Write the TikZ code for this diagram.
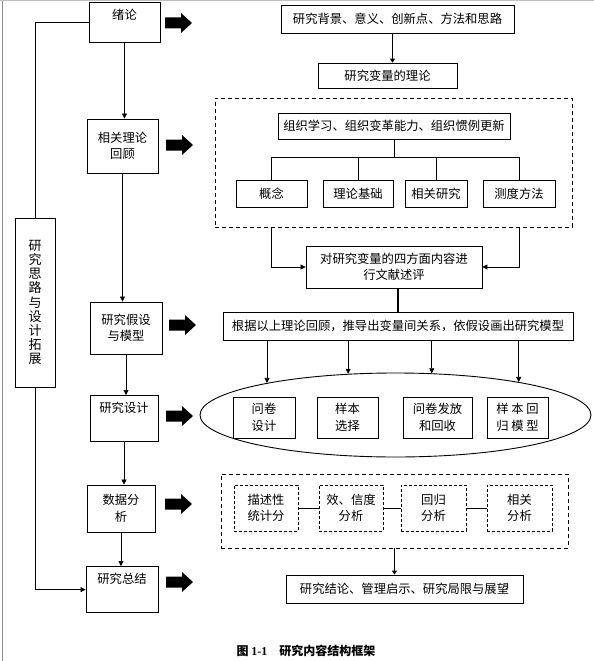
\documentclass[tikz,border=0pt]{standalone}
\usepackage{fontspec}
\setmainfont{Liberation Serif}
\newfontfamily\cjk{Noto Sans CJK SC}
\usetikzlibrary{arrows.meta,shapes.geometric,calc}

\tikzset{
  kuang/.style={draw, line width=0.8pt, align=center, inner sep=2pt,
    font=\cjk\fontsize{12.3pt}{16.5pt}\selectfont},
  zuokuang/.style={kuang, anchor=north, inner ysep=7pt},
  xukuang/.style={draw, line width=0.9pt, dash pattern=on 4pt off 3pt},
  xiaoxu/.style={kuang, line width=0.7pt, dash pattern=on 3pt off 2pt},
  xian/.style={line width=0.6pt},
  jiantou/.style={line width=0.6pt, -{Triangle[length=5pt,width=5pt]}},
  cujiantou/.style={line width=1.8pt, -{Triangle[length=4pt,width=5pt]}},
}

\begin{document}
\begin{tikzpicture}[x=1pt,y=-1pt]
  \useasboundingbox (0,0) rectangle (594,661);
  % page edges of the scan
  \draw[line width=1pt, draw=black!45] (2,0) -- (2,661);
  \draw[line width=0.8pt, draw=black!25] (0,0.5) -- (594,0.5);

  % left column
  \node[zuokuang, minimum width=71pt, text depth=16pt] (xulun) at (124.5,2) {绪论};
  \node[kuang, minimum width=71pt, minimum height=54pt] (huigu) at (122.5,146) {相关理论\\回顾};
  \node[kuang, minimum width=72pt, minimum height=52pt] (jiashe) at (126,328) {研究假设\\与模型};
  \node[zuokuang, minimum width=68pt, text depth=22pt] (sheji) at (124,395) {研究设计};
  \node[kuang, minimum width=68pt, minimum height=47pt] (shuju) at (121,508.5) {数据分\\析};
  \node[zuokuang, minimum width=72pt, text depth=22pt] (zongjie) at (122,566) {研究总结};
  \node[kuang, minimum width=40pt, minimum height=169pt,
    font=\cjk\fontsize{13pt}{14.2pt}\selectfont] (silu) at (35,302.5)
    {研\\究\\思\\路\\与\\设\\计\\拓\\展};

  \draw[jiantou] (xulun.south) -- (xulun.south |- huigu.north);
  \draw[jiantou] (huigu.south) -- (huigu.south |- jiashe.north);
  \draw[jiantou] (jiashe.south) -- (jiashe.south |- sheji.north);
  \draw[jiantou] (sheji.south) -- (sheji.south |- shuju.north);
  \draw[jiantou] (shuju.south) -- (shuju.south |- zongjie.north);
  \draw[xian] (xulun.west) -| (silu.north);
  \draw[jiantou] (silu.south) |- (zongjie.west);

  % fat arrows
  \foreach \x/\y in {165/23,166/145,169/325,166/416,165/504,166/582}
    \fill (\x,\y-5.5) -- (\x+16,\y-5.5) -- (\x+16,\y-10) -- (\x+27,\y)
      -- (\x+16,\y+10) -- (\x+16,\y+5.5) -- (\x,\y+5.5) -- cycle;

  % introduction
  \node[kuang, minimum width=233pt, minimum height=28pt] (beijing) at (397.5,19) {研究背景、意义、创新点、方法和思路};
  \node[kuang, minimum width=139pt, minimum height=25pt] (bianliang) at (387.5,75.5) {研究变量的理论};
  \coordinate (m1) at ($(beijing.south)!.5!(bianliang.north)$);
  \draw[cujiantou] (m1 |- beijing.south) -- (m1 |- bianliang.north);

  % theory review
  \node[xukuang, minimum width=357pt, minimum height=129pt] (kuang1) at (393.5,162.5) {};
  \node[kuang, minimum width=232pt, minimum height=26pt] (zuzhi) at (394,126) {组织学习、组织变革能力、组织惯例更新};
  \node[kuang, minimum width=71pt, minimum height=27pt] (gainian) at (271.5,193.5) {概念};
  \node[kuang, minimum width=70pt, minimum height=27pt] (jichu) at (358,193.5) {理论基础};
  \node[kuang, minimum width=62pt, minimum height=27pt] (yanjiu) at (436,193.5) {相关研究};
  \node[kuang, minimum width=72pt, minimum height=27pt] (cedu) at (519,193.5) {测度方法};
  \draw[xian] (zuzhi.south) -- ++(0,18) coordinate (fen);
  \foreach \n in {gainian,jichu,yanjiu,cedu}
    \draw[xian] (fen) -| (\n.north);

  \node[kuang, minimum width=176pt, minimum height=42pt] (shuping) at (394,267) {对研究变量的四方面内容进\\行文献述评};
  \draw[jiantou] (kuang1.south -| gainian.south) |- (shuping.west);
  \draw[jiantou] (kuang1.south -| cedu.south) |- (shuping.east);

  % hypotheses and design
  \node[kuang, minimum width=350pt, minimum height=28pt] (genju) at (398,326) {根据以上理论回顾，推导出变量间关系，依假设画出研究模型};
  \draw[line width=1.8pt] (genju.north |- shuping.south) -- (genju.north);
  \node[draw, ellipse, line width=0.9pt, minimum width=391pt, minimum height=84pt] (tuoyuan) at (395.5,415) {};
  \foreach \a in {166,139,49,15}
    \draw[jiantou] (genju.south -| tuoyuan.\a) -- (tuoyuan.\a);
  \node[kuang, minimum width=62pt, minimum height=41pt] (wenjuan) at (264,417.5) {问卷\\设计};
  \node[kuang, minimum width=61pt, minimum height=41pt] (yangben) at (347.5,417.5) {样本\\选择};
  \node[kuang, minimum width=69pt, minimum height=41pt] (fafang) at (437.5,417.5) {问卷发放\\和回收};
  \node[kuang, minimum width=61pt, minimum height=41pt] (huigui) at (517.5,417.5) {样 本 回\\归 模 型};

  % data analysis
  \node[xukuang, minimum width=347pt, minimum height=74pt] (kuang2) at (394.5,511) {};
  \node[xiaoxu, minimum width=64pt, minimum height=46pt] (miaoshu) at (266,508) {描述性\\统计分};
  \node[xiaoxu, minimum width=64pt, minimum height=46pt] (xindu) at (351,508) {效、信度\\分析};
  \node[xiaoxu, minimum width=65pt, minimum height=46pt] (huiguifx) at (433.5,508) {回归\\分析};
  \node[xiaoxu, minimum width=65pt, minimum height=46pt] (xiangguan) at (519.5,508) {相关\\分析};
  \draw[xian] (miaoshu) -- (xindu);
  \draw[xian] (xindu) -- (huiguifx);
  \draw[xian] (huiguifx) -- (xiangguan);

  % conclusion
  \node[kuang, minimum width=237pt, minimum height=28pt] (jielun) at (404.5,589) {研究结论、管理启示、研究局限与展望};
  \draw[cujiantou] (kuang2.south) -- (kuang2.south |- jielun.north);

  \node[font=\fontsize{12pt}{14pt}\selectfont\bfseries] (tuming) at (306,651)
    {\cjk 图~\rmfamily 1-1\hspace{1em}\cjk 研究内容结构框架};
\end{tikzpicture}
\end{document}
